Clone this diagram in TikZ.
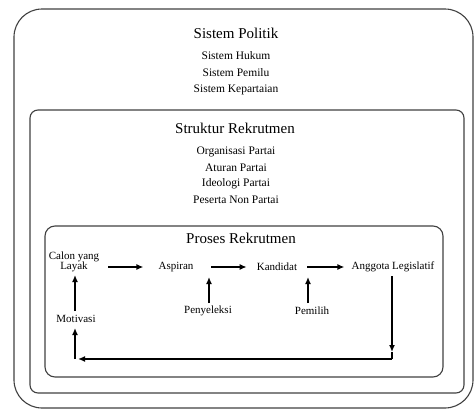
\documentclass[tikz,border=0pt]{standalone}
\usepackage{fontspec}
\setmainfont{Liberation Serif}
\usetikzlibrary{arrows.meta}
\begin{document}
\begin{tikzpicture}[x=1pt,y=-1pt,
  boxline/.style={draw=black!75,line width=1.1pt},
  head/.style={font=\fontsize{15}{17}\selectfont},
  item/.style={font=\fontsize{11.5}{13}\selectfont},
  lbl/.style={font=\fontsize{11}{11}\selectfont,align=center,inner sep=1pt},
  arr/.style={line width=1.3pt,-{Latex[length=7pt,width=6pt]}}]
\useasboundingbox (0,0) rectangle (475,410);
% boxes
\draw[boxline,rounded corners=28pt] (14,9) rectangle (473,408);
\draw[boxline,rounded corners=8pt] (30,110) rectangle (464,393);
\draw[boxline,rounded corners=10pt] (45,226) rectangle (443,377);
% Sistem Politik
\node[head] (sp) at (236,33) {Sistem Politik};
\node[item] (sh) at (236,56) {Sistem Hukum};
\node[item] (spm) at (236,73) {Sistem Pemilu};
\node[item] (sk) at (236,90) {Sistem Kepartaian};
% Struktur Rekrutmen
\node[head] (sr) at (235,128) {Struktur Rekrutmen};
\node[item] (op) at (236,152) {Organisasi Partai};
\node[item] (ap) at (236,168) {Aturan Partai};
\node[item] (ip) at (236,184) {Ideologi Partai};
\node[item] (pn) at (236,200) {Peserta Non Partai};
% Proses Rekrutmen
\node[head] (pr) at (241,238) {Proses Rekrutmen};
\node[lbl] (cl) at (74,262) {Calon yang\\[-1pt]Layak};
\node[lbl] (as) at (176,267) {Aspiran};
\node[lbl] (ka) at (277,267) {Kandidat};
\node[lbl] (al) at (393,267) {Anggota Legislatif};
\node[lbl] (pe) at (208,311) {Penyeleksi};
\node[lbl] (pm) at (312,311) {Pemilih};
\node[lbl] (mo) at (76,319) {Motivasi};
% helper coordinates
\coordinate (s1) at (108,267);
\coordinate (s2) at (211,267);
\coordinate (s3) at (307,267);
\coordinate (pe0) at (209,303);
\coordinate (pe1) at (209,277);
\coordinate (pm0) at (308,303);
\coordinate (pm1) at (308,277);
\coordinate (mo0) at (75,311);
\coordinate (cl1) at (75,275);
\coordinate (al0) at (392,276);
\coordinate (al1) at (392,352);
\coordinate (c1) at (392,359);
\coordinate (c2) at (75,359);
\coordinate (c3) at (78,359);
\coordinate (mo1) at (75,328);
% arrows
\draw[arr,shorten >=14pt] (s1) -- (as.west);
\draw[arr,shorten >=9pt] (s2) -- (ka.west);
\draw[arr,shorten >=6pt] (s3) -- (al.west);
\draw[arr] (pe0) -- (pe1);
\draw[arr] (pm0) -- (pm1);
\draw[arr] (mo0) -- (cl1);
\draw[arr] (al0) -- (al1);
\draw[line width=1.3pt] (al1) -- (c1);
\draw[arr] (c1) -- (c3);
\draw[arr] (c2) -- (mo1);
\end{tikzpicture}
\end{document}
